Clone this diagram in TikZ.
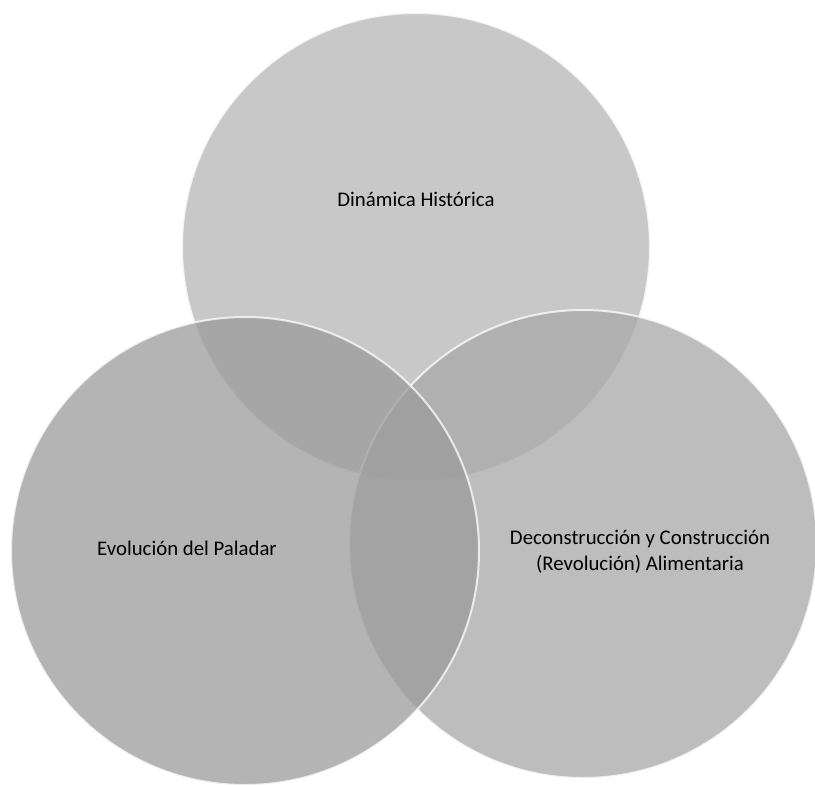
\documentclass[tikz,border=0pt]{standalone}
\usepackage{fontspec}
\setmainfont{Carlito}
\usepackage{xcolor}
\usepackage{tikz}
\usetikzlibrary{positioning}
\definecolor{histgray}{RGB}{182,182,182}
\definecolor{palgray}{RGB}{155,155,155}
\definecolor{revgray}{RGB}{168,168,168}
\tikzset{
  venn/.style={circle, draw=white, line width=2pt, minimum size=468pt, inner sep=0pt, opacity=0.75},
  lbl/.style={font=\fontsize{20.8}{26}\selectfont, text=black, align=center, inner sep=1pt}
}
\begin{document}
\begin{tikzpicture}[x=1pt, y=-1pt]
    \useasboundingbox (0,0) rectangle (815,785);
    \fill[white] (0,0) rectangle (815,785);
    \node[venn, fill=histgray] (hist) at (416,247) {};
    \node[venn, fill=revgray] (rev) at (583,544) {};
    \node[venn, fill=palgray] (pal) at (245,551) {};
    \node[lbl] (histlbl) at (416,199) {Dinámica Histórica};
    \node[lbl] (pallbl) at (187,548) {Evolución del Paladar};
    \node[lbl] (revlbl) at (640,552) {Deconstrucción y Construcción\\(Revolución) Alimentaria};
\end{tikzpicture}
\end{document}
